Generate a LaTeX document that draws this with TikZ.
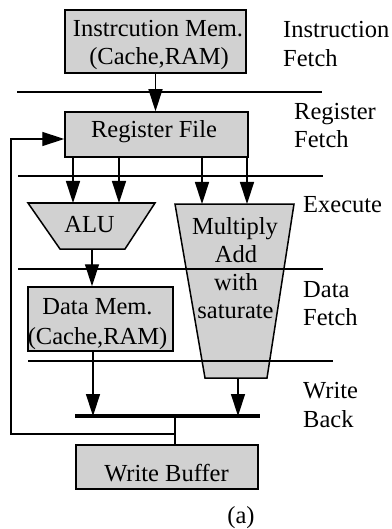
\documentclass[tikz,border=0pt]{standalone}
\usepackage{fontspec}
\setmainfont{Liberation Serif}
\usetikzlibrary{arrows.meta}
\begin{document}
\begin{tikzpicture}[x=1pt,y=-1pt,
  box/.style={draw, line width=1.5pt, fill=black!18, rectangle, inner sep=0pt},
  trap/.style={draw, line width=1.5pt, fill=black!18, line join=miter},
  txt/.style={inner sep=0pt, anchor=base, font=\fontsize{24.5}{28}\selectfont},
  lbl/.style={inner sep=0pt, anchor=base west, font=\fontsize{24.5}{28}\selectfont},
  stage/.style={line width=1.4pt},
  wire/.style={line width=1.4pt},
  arr/.style={wire, -{Triangle[length=22pt,width=14pt]}},
  bus/.style={line width=4pt}]
\useasboundingbox (0,0) rectangle (391,529);

% boxes
\node[box, minimum width=181pt, minimum height=63pt] (im) at (155.5,41.5) {};
\node[box, minimum width=183pt, minimum height=45pt] (rf) at (156.5,134.5) {};
\node[box, minimum width=145pt, minimum height=64pt] (dm) at (100.5,319) {};
\node[box, minimum width=182pt, minimum height=44pt] (wb) at (167,467) {};

% trapezoids
\coordinate (aluTL) at (28,203);
\coordinate (aluTR) at (155,203);
\coordinate (aluBR) at (125,249);
\coordinate (aluBL) at (60,249);
\draw[trap] (aluTL) -- (aluTR) -- (aluBR) -- (aluBL) -- cycle;
\coordinate (macTL) at (175,204);
\coordinate (macTR) at (294,204);
\coordinate (macBR) at (267,378);
\coordinate (macBL) at (205,378);
\draw[trap] (macTL) -- (macTR) -- (macBR) -- (macBL) -- cycle;

% stage separators
\coordinate (s1a) at (17,92);  \coordinate (s1b) at (322,92);
\coordinate (s2a) at (18,176); \coordinate (s2b) at (323,176);
\coordinate (s3a) at (18,269); \coordinate (s3b) at (323,269);
\coordinate (s4a) at (28,361); \coordinate (s4b) at (333,361);
\draw[stage] (s1a) -- (s1b);
\draw[stage] (s2a) -- (s2b);
\draw[stage] (s3a) -- (s3b);
\draw[stage] (s4a) -- (s4b);

% connectors
\draw[arr] (im.south) -- (im.south |- rf.north);
\coordinate (alu1) at (73,203);
\coordinate (alu2) at (119,203);
\coordinate (mac1) at (202,204);
\coordinate (mac2) at (247,204);
\draw[arr] (rf.south -| alu1) -- (alu1);
\draw[arr] (rf.south -| alu2) -- (alu2);
\draw[arr] (rf.south -| mac1) -- (mac1);
\draw[arr] (rf.south -| mac2) -- (mac2);
\coordinate (aluout) at (92,249);
\draw[arr] (aluout) -- (aluout |- dm.north);
\coordinate (busA) at (93,416);
\coordinate (macout) at (238,378);
\coordinate (busB) at (238,416);
\draw[arr] (dm.south -| busA) -- (busA);
\draw[arr] (macout) -- (busB);
\coordinate (busL) at (75,416);
\coordinate (busR) at (260,416);
\draw[bus] (busL) -- (busR);
\coordinate (busJ) at (175,416);
\coordinate (fbJ) at (175,434);
\coordinate (fbC) at (11,434);
\coordinate (fbT) at (11,139);
\draw[wire] (busJ) -- (busJ |- wb.north);
\draw[arr] (fbJ) -- (fbC) -- (fbT) -- (fbT -| rf.west);

% box texts
\node[txt] (imA) at (158,37) {Instrcution Mem.};
\node[txt] (imB) at (159,65) {(Cache,RAM)};
\node[txt] (rfA) at (154,138) {Register File};
\node[txt] (aluA) at (89.5,232) {ALU};
\node[txt] (macA) at (235,234) {Multiply};
\node[txt] (macB) at (236,262) {Add};
\node[txt] (macC) at (236,290) {with};
\node[txt] (macD) at (235.5,318) {saturate};
\node[txt] (dmA) at (97.5,314) {Data Mem.};
\node[txt] (dmB) at (97.5,344) {(Cache,RAM)};
\node[txt] (wbA) at (166.5,481) {Write Buffer};

% stage labels
\node[lbl] (l1a) at (283,38) {Instruction};
\node[lbl] (l1b) at (283,67) {Fetch};
\node[lbl] (l2a) at (294,120) {Register};
\node[lbl] (l2b) at (294,148) {Fetch};
\node[lbl] (l3a) at (303,212) {Execute};
\node[lbl] (l4a) at (303,297) {Data};
\node[lbl] (l4b) at (303,325) {Fetch};
\node[lbl] (l5a) at (303,398) {Write};
\node[lbl] (l5b) at (303,427) {Back};

\node[txt] (cap) at (241,523) {(a)};
\end{tikzpicture}
\end{document}
